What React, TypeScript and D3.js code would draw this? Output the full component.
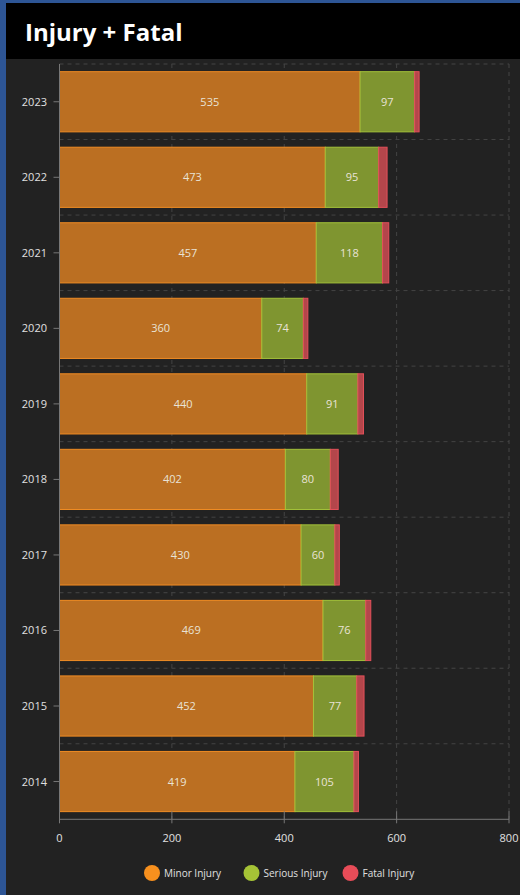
import React from "react";
import * as d3 from "d3";

const years = ["2023", "2022", "2021", "2020", "2019", "2018", "2017", "2016", "2015", "2014"];
const minor = [535, 473, 457, 360, 440, 402, 430, 469, 452, 419];
const serious = [97, 95, 118, 74, 91, 80, 60, 76, 77, 105];
const fatal = [8, 15, 11, 8, 10, 14, 8, 9, 13, 8];
const seriesNames = ["Minor Injury", "Serious Injury", "Fatal Injury"];
const xTicks = [0, 200, 400, 600, 800];

const fills = ["#bb6f22", "#7f9530", "#b4464b"];
const strokes = ["#f08c24", "#a3c13a", "#e4505a"];
const legendColors = ["#f7901e", "#a5c336", "#e84c58"];

const W = 520, H = 895;
const left = 59.5, right = 509;
const top = 64, bottom = 819.3;

export default function App() {
  const x = d3.scaleLinear().domain([0, 800]).range([left, right]);
  const y = d3.scaleBand<string>().domain(years).range([top, bottom]).paddingInner(0.19).paddingOuter(0.095);
  const rows = years.map((yr, i) => ({ yr, vals: [minor[i], serious[i], fatal[i]] }));
  const stack = d3.stack<any>().keys(["0", "1", "2"]).value((d: any, k: string) => d.vals[+k]);
  const stacked = stack(rows);
  const font = "'Open Sans', 'Segoe UI', sans-serif";
  const step = y.step();
  return (
    <svg width={W} height={H} style={{ position: "fixed", left: 0, top: 0 }} fontFamily={font}>
      <rect x={0} y={0} width={W} height={H} fill="#2d5595" />
      <rect x={6} y={3} width={W - 6} height={H - 3} fill="#222222" />
      <rect x={6} y={3} width={W - 6} height={56} fill="#000000" />
      <text x={25} y={41} fill="#ffffff" fontSize={24} fontWeight={700}>Injury + Fatal</text>

      {years.map((yr, i) => (
        <line key={"hg" + i} x1={left} x2={right} y1={top + i * step} y2={top + i * step}
          stroke="#444" strokeDasharray="4,4" />
      ))}
      {xTicks.slice(1).map((t) => (
        <line key={"vg" + t} x1={x(t)} x2={x(t)} y1={top} y2={bottom} stroke="#444" strokeDasharray="4,4" />
      ))}

      {stacked.map((s, si) =>
        s.map((d, i) => (
          <rect key={si + "-" + i} x={x(d[0])} y={y(years[i])! + 0.5} width={x(d[1]) - x(d[0])}
            height={y.bandwidth() - 1} fill={fills[si]} stroke={strokes[si]} strokeWidth={1} />
        ))
      )}
      {stacked.slice(0, 2).map((s, si) =>
        s.map((d, i) => (
          <text key={"l" + si + "-" + i} x={(x(d[0]) + x(d[1])) / 2} y={y(years[i])! + y.bandwidth() / 2 + 4}
            fill="#e9e3d6" fontSize={11} textAnchor="middle">{d[1] - d[0]}</text>
        ))
      )}

      <line x1={left} x2={left} y1={top} y2={bottom} stroke="#777" />
      {years.map((yr) => (
        <g key={"yt" + yr}>
          <line x1={left - 6} x2={left} y1={y(yr)! + y.bandwidth() / 2} y2={y(yr)! + y.bandwidth() / 2} stroke="#777" />
          <text x={47} y={y(yr)! + y.bandwidth() / 2 + 4} fill="#e0e0e0" fontSize={11} textAnchor="end">{yr}</text>
        </g>
      ))}

      <line x1={left} x2={right} y1={bottom} y2={bottom} stroke="#777" />
      {xTicks.map((t) => (
        <g key={"xt" + t}>
          <line x1={x(t)} x2={x(t)} y1={bottom - 8} y2={bottom + 4} stroke="#777" />
          <text x={x(t)} y={842} fill="#e0e0e0" fontSize={11} textAnchor="middle">{t}</text>
        </g>
      ))}

      {seriesNames.map((n, i) => {
        const cx = [152, 251.5, 350.5][i];
        return (
          <g key={"lg" + n}>
            <circle cx={cx} cy={873} r={8} fill={legendColors[i]} />
            <text x={cx + 12} y={877} fill="#e0e0e0" fontSize={10}>{n}</text>
          </g>
        );
      })}
    </svg>
  );
}
